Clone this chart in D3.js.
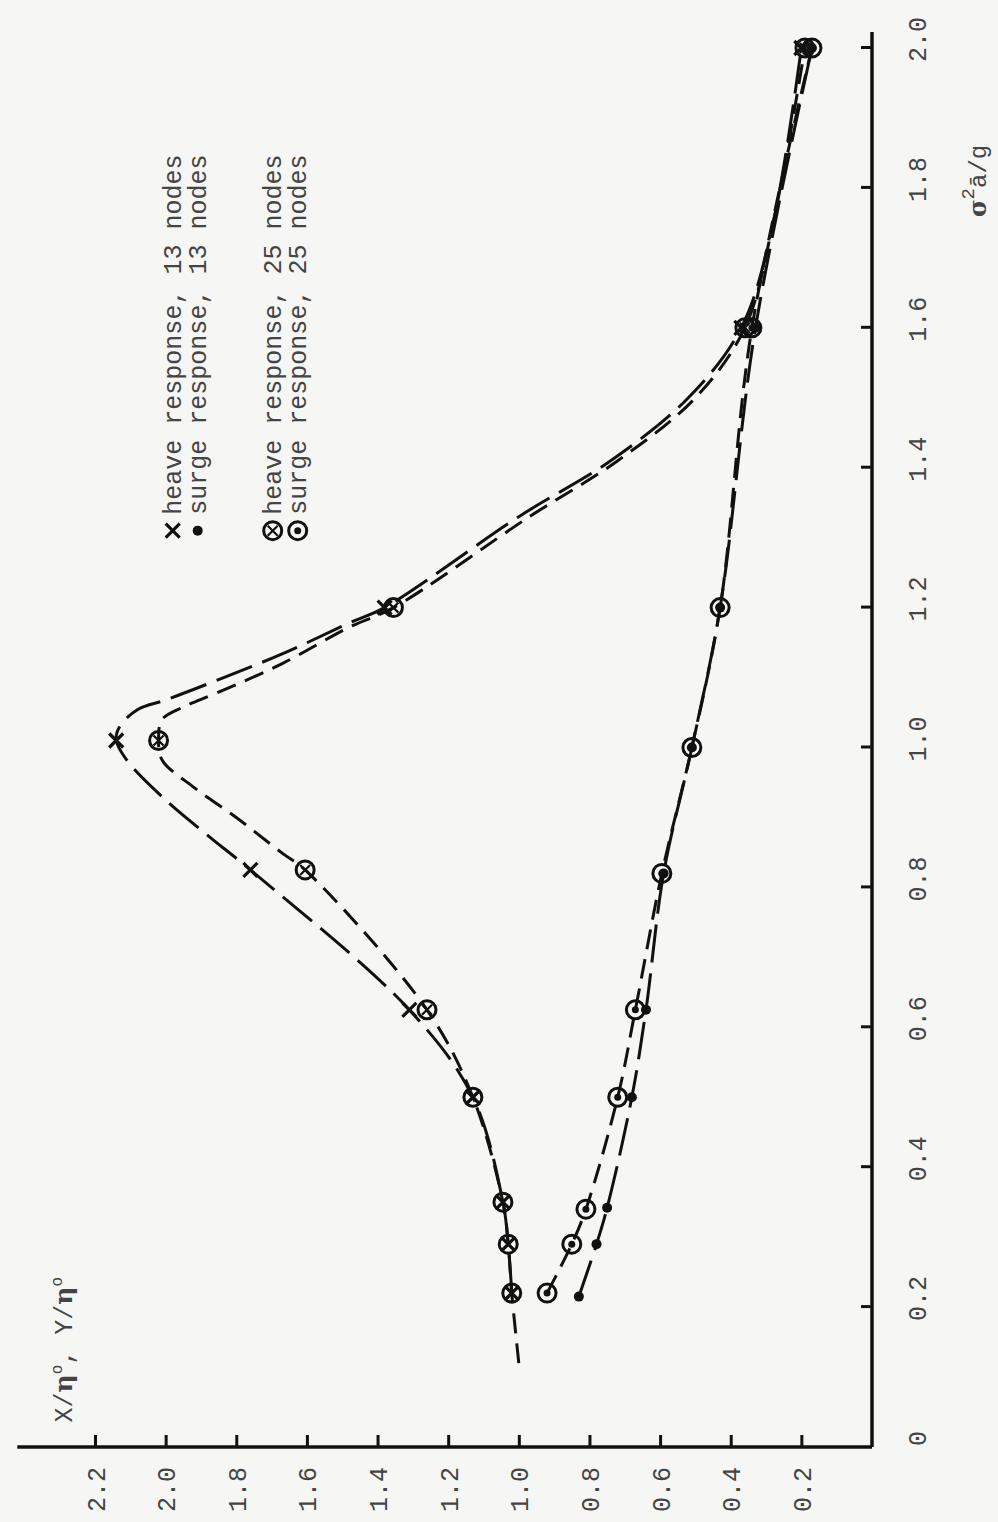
<!DOCTYPE html>
<html>
<head>
<meta charset="utf-8">
<script src="https://cdn.jsdelivr.net/npm/d3@7"></script>
<style>
  body { margin: 0; background: #f6f6f4; }
  text { font-family: "Liberation Mono", "DejaVu Sans Mono", monospace; fill: #444; }
</style>
</head>
<body>
<svg width="998" height="1522"></svg>
<script>
// sigma^2 a/g values where points were computed
const heave13U = [0.22, 0.29, 0.35, 0.50, 0.625, 0.825, 1.01, 1.20, 1.60, 2.00];
const heave13X = [1.02, 1.03, 1.045, 1.13, 1.31, 1.76, 2.14, 1.38, 0.37, 0.20];
const heave25U = [0.22, 0.29, 0.35, 0.50, 0.625, 0.825, 1.01, 1.20, 1.60, 2.00];
const heave25X = [1.02, 1.03, 1.045, 1.13, 1.26, 1.605, 2.02, 1.355, 0.36, 0.19];
const surge13U = [0.215, 0.29, 0.342, 0.50, 0.625, 0.82, 1.00, 1.20, 1.60, 2.00];
const surge13X = [0.83, 0.78, 0.75, 0.68, 0.64, 0.59, 0.51, 0.43, 0.33, 0.17];
const surge25U = [0.22, 0.29, 0.34, 0.50, 0.625, 0.82, 1.00, 1.20, 1.60, 2.00];
const surge25X = [0.92, 0.85, 0.81, 0.72, 0.67, 0.595, 0.51, 0.43, 0.34, 0.17];

// hand-faired curves through the heave points
const heave13CurveU = [0.22, 0.29, 0.35, 0.50, 0.625, 0.825, 0.872, 0.925, 0.982, 1.011, 1.03, 1.054, 1.068, 1.097, 1.136, 1.178, 1.20, 1.33, 1.41, 1.50, 1.60, 1.75, 2.00];
const heave13CurveX = [1.02, 1.03, 1.045, 1.13, 1.31, 1.76, 1.875, 2.00, 2.11, 2.14, 2.13, 2.08, 2.00, 1.85, 1.66, 1.48, 1.38, 1.00, 0.74, 0.52, 0.37, 0.28, 0.20];
const heave25CurveU = [0.12, 0.22, 0.29, 0.35, 0.50, 0.625, 0.825, 0.849, 0.90, 0.943, 0.982, 1.011, 1.04, 1.058, 1.078, 1.12, 1.172, 1.20, 1.33, 1.41, 1.50, 1.60, 1.75, 2.00];
const heave25CurveX = [1.00, 1.02, 1.03, 1.045, 1.13, 1.26, 1.605, 1.67, 1.80, 1.92, 2.01, 2.02, 2.01, 1.95, 1.855, 1.67, 1.48, 1.355, 0.97, 0.72, 0.50, 0.36, 0.28, 0.19];

const uTicks = [0, 0.2, 0.4, 0.6, 0.8, 1.0, 1.2, 1.4, 1.6, 1.8, 2.0];
const xTicks = [0.2, 0.4, 0.6, 0.8, 1.0, 1.2, 1.4, 1.6, 1.8, 2.0, 2.2];

const legendItems = [
  {label: "heave response, 13 nodes", sym: "cross"},
  {label: "surge response, 13 nodes", sym: "dot"},
  {label: "heave response, 25 nodes", sym: "ocross"},
  {label: "surge response, 25 nodes", sym: "odot"}
];

const svg = d3.select("svg");

// the page is drawn sideways: build a normal chart and turn it -90 degrees
const g = svg.append("g").attr("transform", "translate(95,1447) rotate(-90)");

const x = d3.scaleLinear().domain([0, 2]).range([0, 1399]);
const y = d3.scaleLinear().domain([0, 2.2]).range([777, 0]);

// axis lines
g.append("line")
  .attr("x1", x(0)).attr("x2", x(2.023))
  .attr("y1", y(0)).attr("y2", y(0))
  .attr("stroke", "#111").attr("stroke-width", 3.5);
g.append("line")
  .attr("x1", x(0)).attr("x2", x(0))
  .attr("y1", y(0)).attr("y2", y(2.42))
  .attr("stroke", "#111").attr("stroke-width", 3.5);

const xAxis = g.append("g")
  .attr("transform", `translate(0,${y(0)})`)
  .call(d3.axisBottom(x).tickValues(uTicks).tickSize(-11)
    .tickFormat(d => d === 0 ? "0" : d3.format(".1f")(d)));
xAxis.select(".domain").remove();
xAxis.selectAll(".tick line").attr("stroke", "#111").attr("stroke-width", 3)
  .filter(d => d === 0).remove();
xAxis.selectAll("text").attr("y", 54).attr("dy", 0).attr("dx", 8)
  .attr("font-size", 25).attr("font-family", null);

const yAxis = g.append("g")
  .call(d3.axisLeft(y).tickValues(xTicks).tickSize(-12)
    .tickFormat(d3.format(".1f")));
yAxis.select(".domain").remove();
yAxis.selectAll(".tick line").attr("stroke", "#111").attr("stroke-width", 3);
yAxis.selectAll("text").attr("x", -20).attr("dy", "0.36em")
  .attr("font-size", 25).attr("font-family", null);

// axis titles
const xt = g.append("text")
  .attr("x", x(1.81)).attr("y", y(0) + 114)
  .attr("text-anchor", "middle").attr("font-size", 24);
xt.append("tspan").attr("font-weight", "bold").attr("font-family", "DejaVu Serif").text("σ");
xt.append("tspan").attr("dy", -12).attr("font-size", 19).text("2");
xt.append("tspan").attr("dy", 12).text("ā/g");

const yt = g.append("text")
  .attr("x", x(0.035)).attr("y", y(2.265))
  .attr("font-size", 25);
yt.append("tspan").text("X/");
yt.append("tspan").attr("font-weight", "bold").attr("font-family", "DejaVu Serif").text("η");
yt.append("tspan").attr("dy", -10).attr("font-size", 16).text("o");
yt.append("tspan").attr("dy", 10).text(", Y/");
yt.append("tspan").attr("font-weight", "bold").attr("font-family", "DejaVu Serif").text("η");
yt.append("tspan").attr("dy", -10).attr("font-size", 16).text("o");

// curves
const line = d3.line()
  .x(d => x(d[0])).y(d => y(d[1]))
  .curve(d3.curveCatmullRom.alpha(0.5));

const zip = (a, b) => a.map((v, i) => [v, b[i]]);

const curves = [
  {pts: zip(heave13CurveU, heave13CurveX), dash: "38,11"},
  {pts: zip(heave25CurveU, heave25CurveX), dash: "20,10"},
  {pts: zip(surge13U, surge13X), dash: "38,11"},
  {pts: zip(surge25U, surge25X), dash: "20,10"}
];

g.append("g").selectAll("path")
  .data(curves)
  .join("path")
  .attr("d", d => line(d.pts))
  .attr("fill", "none")
  .attr("stroke", "#111")
  .attr("stroke-width", 3)
  .attr("stroke-dasharray", d => d.dash);

// marker symbols
function drawSymbol(sel, type) {
  sel.each(function () {
    const s = d3.select(this);
    if (type === "cross" || type === "ocross") {
      const r = type === "cross" ? 7 : 5;
      s.append("path")
        .attr("d", `M${-r},${-r}L${r},${r}M${-r},${r}L${r},${-r}`)
        .attr("stroke", "#111").attr("stroke-width", type === "cross" ? 3.2 : 2.2);
    }
    if (type === "ocross" || type === "odot") {
      s.append("circle").attr("r", 9)
        .attr("fill", "none").attr("stroke", "#111").attr("stroke-width", 3);
    }
    if (type === "odot") {
      s.append("circle").attr("r", 3.5).attr("fill", "#111");
    }
    if (type === "dot") {
      s.append("circle").attr("r", 5).attr("fill", "#111");
    }
  });
}

const markerSets = [
  {u: surge13U, v: surge13X, sym: "dot"},
  {u: surge25U, v: surge25X, sym: "odot"},
  {u: heave13U, v: heave13X, sym: "cross"},
  {u: heave25U, v: heave25X, sym: "ocross"}
];

markerSets.forEach(set => {
  g.append("g").selectAll("g")
    .data(zip(set.u, set.v))
    .join("g")
    .attr("transform", d => `translate(${x(d[0])},${y(d[1])})`)
    .call(drawSymbol, set.sym);
});

// legend, typed in the top right corner of the (unrotated) plot
const legend = g.append("g")
  .attr("transform", `translate(${x(1.31)},${y(1.98)})`);
const li = legend.selectAll("g")
  .data(legendItems)
  .join("g")
  .attr("transform", (d, i) => `translate(0,${i * 25 + (i > 1 ? 50 : 0)})`);
li.each(function (d) {
  const s = d3.select(this);
  s.append("g").call(drawSymbol, d.sym);
  s.append("text").attr("x", 16).attr("dy", "0.35em")
    .attr("font-size", 25).text(d.label);
});
</script>
</body>
</html>
